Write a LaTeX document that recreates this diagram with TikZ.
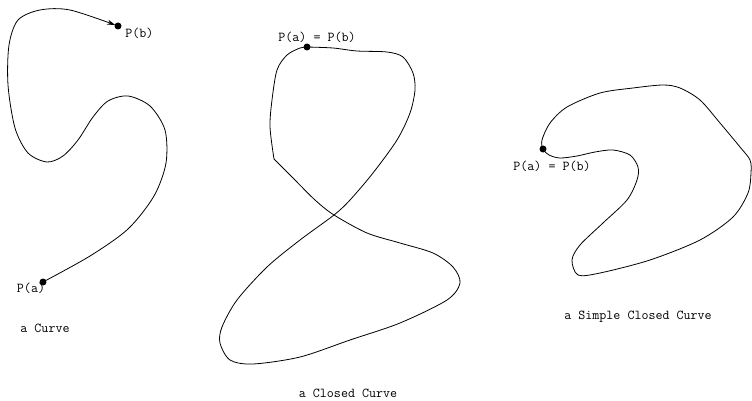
\documentclass[tikz,border=0pt]{standalone}
\usetikzlibrary{arrows.meta}

\begin{document}
\begin{tikzpicture}[x=1pt,y=-1pt,line width=0.8pt,
  pt/.style={circle,fill,inner sep=0pt,minimum size=7pt},
  lbl/.style={font=\ttfamily\fontsize{13.6}{16}\selectfont,inner sep=0pt}]
  \useasboundingbox (0,0) rectangle (752,401);
  % a curve
  \node[pt] (pa) at (43,282) {};
  \node[pt] (pb) at (118,26) {};
  \draw[-{Stealth[length=8pt,width=5pt]},shorten >=3pt]
    plot[smooth] coordinates {(pa.center) (90,256) (128,229) (154,196)
      (166,163) (165,130) (150,106) (128,96) (108,101) (93,117) (78,140)
      (63,156) (47,162) (28,153) (15,128) (8,85) (9,45) (18,20) (40,10)
      (70,10) (pb.center)};
  \node[lbl,anchor=west] (lpb) at (125,33) {P(b)};
  \node[lbl] (lpa) at (31,288) {P(a)};
  \node[lbl] (t1) at (45,328) {a Curve};
  % a closed curve
  \node[pt] (q) at (307,47) {};
  \draw plot[smooth] coordinates {(q.center) (333,48) (357,51) (387,52) (403,57)
      (413,73) (415,90) (410,113) (397,140) (373,173) (350,200) (334,215)
      (300,240) (267,267) (237,300) (222,327) (220,343) (230,360) (253,364)
      (300,357) (350,340) (400,323) (447,300) (460,283) (453,267) (433,253)
      (400,243) (367,233) (334,215) (315,200) (293,178) (274,159)}
    plot[smooth] coordinates {(274,159) (270,127) (272,100) (277,70) (287,55)
      (300,48) (q.center)};
  \node[lbl] (lq) at (317,37) {P(a) = P(b)};
  \node[lbl] (t2) at (348,393) {a Closed Curve};
  % a simple closed curve
  \node[pt] (s) at (543,149) {};
  \draw plot[smooth cycle] coordinates {(s.center) (542,140) (550,123) (567,107)
      (600,93) (633,88) (663,85) (680,88) (700,100) (720,123) (740,147)
      (750,160) (751,173) (748,193) (733,217) (700,240) (650,260) (600,273)
      (578,275) (572,260) (580,245) (603,223) (627,200) (637,180) (638,167)
      (630,155) (613,150) (595,152) (577,156) (560,158) (549,155)};
  \node[lbl] (ls) at (552,166) {P(a) = P(b)};
  \node[lbl] (t3) at (638,317) {a Simple Closed Curve};
\end{tikzpicture}
\end{document}
